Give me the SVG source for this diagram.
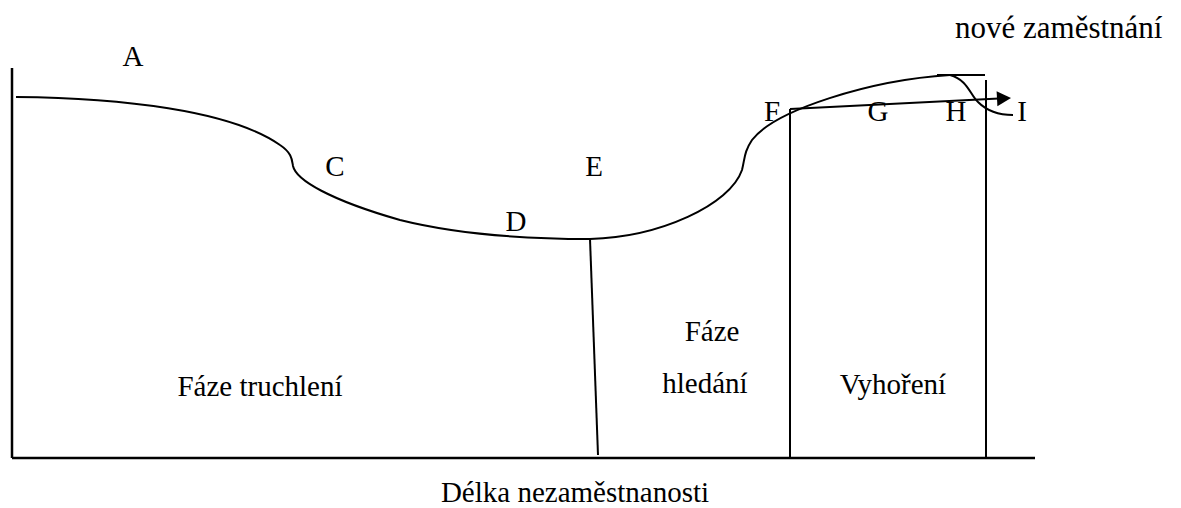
<svg xmlns="http://www.w3.org/2000/svg" width="1181" height="508" viewBox="0 0 1181 508">
<style>
.ln{fill:none;stroke:#000;stroke-width:2}
.ax{fill:none;stroke:#000;stroke-width:2.5}
.t{font-family:'Liberation Serif',serif;font-size:29px}
</style>
<rect width="1181" height="508" fill="#fff"/>
<g id="axes">
<path class="ax" d="M12,68 L12,458"/>
<path class="ax" d="M12,458 L1035,458"/>
</g>
<g id="connectors">
<path class="ln" d="M16,97 C120,98 230,110 280,145 C292,153 292,160 293,166 C296,180 330,200 400,220 C460,235 530,239 590,239 C660,237 730,205 742,170 C745,158 744,152 752,140 C775,110 870,80 950,75"/>
<path class="ln" d="M937,75 L985,75"/>
<path class="ln" d="M950,75 C968,80 970,95 978,102 C988,112 1000,115 1013,115"/>
<path class="ln" d="M790,109 L999,98.6"/>
<path d="M996.6,91.2 L1011,98 L997.4,106.2 Z" fill="#000"/>
<path class="ln" d="M590,239 L598,455"/>
<path class="ln" d="M790,109 L790,458"/>
<path class="ln" d="M986,80 L986,458"/>
</g>
<g id="label-A"><text class="t" x="133" y="66" text-anchor="middle">A</text></g>
<g id="label-C"><text class="t" x="335" y="176" text-anchor="middle">C</text></g>
<g id="label-D"><text class="t" x="516" y="231" text-anchor="middle">D</text></g>
<g id="label-E"><text class="t" x="594" y="176" text-anchor="middle">E</text></g>
<g id="label-F"><text class="t" x="772" y="121" text-anchor="middle">F</text></g>
<g id="label-G"><text class="t" x="878" y="121" text-anchor="middle">G</text></g>
<g id="label-H"><text class="t" x="956" y="121" text-anchor="middle">H</text></g>
<g id="label-I"><text class="t" x="1022" y="121" text-anchor="middle">I</text></g>
<g id="label-nove"><text class="t" x="955" y="38" style="font-size:31px">nové zaměstnání</text></g>
<g id="phase-truchleni"><text class="t" x="260" y="396" text-anchor="middle">Fáze truchlení</text></g>
<g id="phase-hledani"><text class="t" x="712" y="341" text-anchor="middle">Fáze</text><text class="t" x="705" y="393" text-anchor="middle">hledání</text></g>
<g id="phase-vyhoreni"><text class="t" x="893" y="394" text-anchor="middle">Vyhoření</text></g>
<g id="axis-label"><text class="t" x="575" y="502" text-anchor="middle">Délka nezaměstnanosti</text></g>
</svg>
